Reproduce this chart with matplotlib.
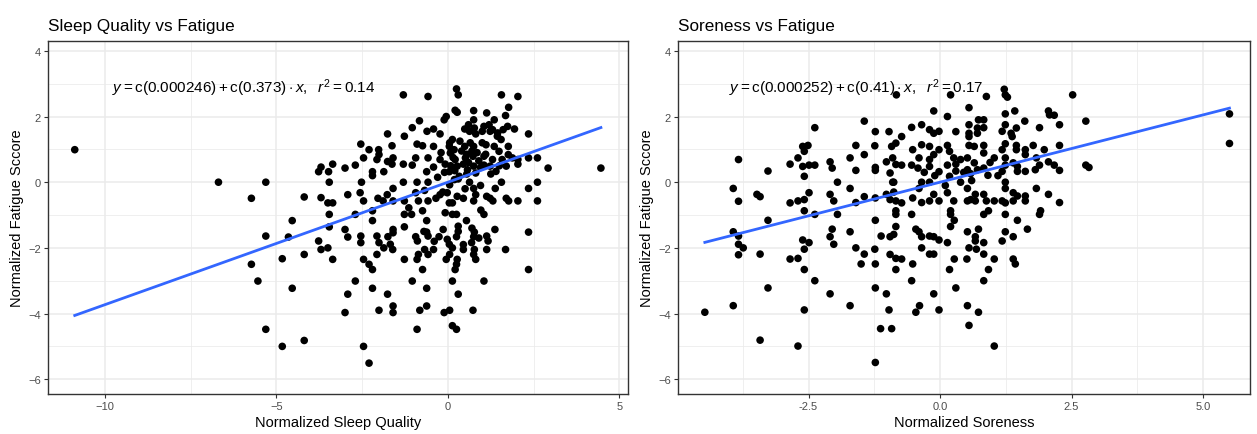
import numpy as np
import matplotlib
matplotlib.use("Agg")
import matplotlib.pyplot as plt
from matplotlib.ticker import MultipleLocator, FormatStrFormatter

plt.rcParams['font.family'] = ['Liberation Sans', 'DejaVu Sans']
plt.rcParams['mathtext.fontset'] = 'custom'
plt.rcParams['mathtext.rm'] = 'Liberation Sans'
plt.rcParams['mathtext.it'] = 'Liberation Sans:italic'

# Sleep quality panel (x, fatigue)
sleep_x = [-10.88, -6.69, -5.31, -5.73, -5.31, -5.73, -5.54, -5.31, -4.83, -4.83, -4.65, -4.54, -4.54,
           -4.19, -4.19, -4.19, 4.46, 2.92, 2.61, 2.61, 2.61, 2.35, 2.35, 2.35, 2.35, 2.35, 2.04, 1.56,
           1.77, 1.68, 1.94, 2.04, 2.04, 1.68, 1.37, 1.05, 0.73, 0.25, 0.30, -0.58, -1.30, 0.27, 0.21,
           0.75, 1.13, -0.05, -0.11, -0.83, -1.04, -0.42, -0.61, -0.23, -1.76, -1.27, -1.63, -2.54,
           -2.30, -2.02, -2.46, -2.70, -3.00, -3.36, -3.70, -3.77, -3.48, -3.46, -2.52, -2.92, -2.56,
           -2.46, -3.70, -3.50, -3.36, -3.46, -2.70, -3.46, -3.00, -2.92, -2.54, -2.54, -3.77, -3.70,
           -3.50, -3.36, -2.46, -2.30, -2.20, -2.70, -2.92, -2.20, -1.76, -3.00, -2.01, -1.60, -1.60,
           -2.46, -2.30, -2.20, -2.20, -2.07, -2.01, -2.07, -1.87, -1.68, -1.61, -1.60, -1.60, -1.75,
           -1.27, -1.27, -1.27, -1.04, -0.90, -0.82, -0.62, -0.62, -0.74, -0.90, -0.86, -0.58, -0.68,
           -0.42, -0.94, -0.89, -0.62, -0.58, -0.26, -0.14, -0.62, -0.74, -0.11, 0.05, 0.13, 0.25,
           0.30, 0.13, 0.21, 0.25, 0.27, -0.05, 0.05, 0.13, 0.45, 0.77, 0.75, 0.81, 1.13, 1.17, 1.13,
           0.77, 0.75, 0.69, 0.30, 0.25, -0.02, 0.04, 0.54, 0.13, 0.25, 1.05, 0.96, 1.38, 1.23, 1.31,
           1.13, 1.70, 1.77, 1.56, 0.63, 0.75, 0.81, 0.75, 0.27, 0.13, 0.45, -0.02, 0.05, 0.19, 0.33,
           -0.23, -0.35, -0.58, -0.86, -0.94, -0.68, -0.58, -0.90, -1.30, -1.27, -1.60, -1.60, -1.77,
           -1.89, -2.04, -1.63, -1.60, -1.76, -1.87, -2.20, -2.20, -2.01, -2.07, -1.30, -1.04, -0.94,
           -0.90, -0.74, -0.58, -0.62, -0.42, -0.42, -0.23, -0.08, 0.04, 0.04, 0.07, 0.13, 0.18, 0.21,
           0.27, 0.49, 0.51, 0.57, 0.75, 0.73, 0.75, 0.81, 0.75, 0.77, 0.81, 0.63, 0.49, 1.05, 1.23,
           1.35, 1.44, 1.11, 1.35, 1.49, 1.05, 1.30, 1.58, 1.23, 1.05, 1.40, 1.70, 1.76, 1.76, 1.88,
           2.04, 1.61, 1.74, 0.04, -0.08, -1.06, -1.14,
           0.05, 0.10, 0.15, 0.08, 0.20, 0.35, 0.40, 0.55, 0.60, 0.45, 0.65, 0.70, 0.85, 0.90, 0.95,
           1.00, 0.55, 0.30, -0.10, -0.20, 1.20, 1.30, 1.45, 1.55, 1.00, 0.60, 1.10, 1.25, 1.50, -0.30,
           -0.70, -0.40, 0.30, 0.45, 0.70, 0.90, -0.15, 0.50, 0.95]
sleep_y = [0.99, 0.00, 0.00, -0.49, -1.64, -2.50, -3.01, -4.48, -5.00, -2.33, -1.67, -1.17, -3.23,
           -0.45, -2.20, -4.82, 0.43, 0.43, 0.74, 0.00, -0.57, 1.47, 0.74, -0.19, -1.52, -2.66, 2.61,
           2.66, 2.28, 2.03, 1.62, -0.57, 0.55, -2.05, -1.44, -3.01, -3.90, 2.84, 2.66, 2.61, 2.66,
           2.13, 2.19, 2.18, 2.11, 2.00, 1.90, 1.87, 1.66, 1.62, 1.55, 1.47, 1.47, 1.40, 1.11, 1.16,
           0.99, 0.99, 0.74, 0.52, 0.43, 0.55, 0.46, 0.32, 0.32, 0.00, 0.00, -0.38, -0.32, -0.57,
           -0.47, -0.63, -0.63, -0.98, -0.98, -1.36, -1.44, -1.67, -1.64, -1.84, -1.79, -2.05, -2.00,
           -2.35, -2.35, -2.50, -2.66, -3.01, -3.41, -3.23, -3.41, -3.97, -3.90, -3.77, -3.97, -5.00,
           -5.51, -0.87, -1.17, -1.64, -1.84, -2.20, -2.00, -1.89, -2.05, -1.44, -1.54, -1.66, -1.36,
           -0.98, -2.35, -3.01, -4.48, -3.90, -3.77, -3.23, -2.66, -2.35, -2.20, -2.20, -2.05, -2.05,
           -1.66, -1.79, -1.52, -1.64, -1.66, -1.44, -1.17, -0.87, -3.97, -3.90, -4.37, -4.48, -3.41,
           -3.01, -2.66, -2.50, -2.35, -2.35, -2.20, -2.00, -2.05, -2.05, -2.20, -2.35, -2.05, -1.79,
           -1.64, -1.52, -1.66, -1.84, -1.34, -1.66, -1.74, -1.89, -1.17, -0.98, -0.98, -0.98, -0.85,
           -0.19, -0.49, -0.57, -0.43, -0.49, -0.57, 0.00, 0.00, -0.19, -0.38, -0.57, -0.43, -0.63,
           -0.49, -0.32, -0.08, 0.08, 0.18, -0.38, -0.49, -0.57, -0.57, -0.32, -0.25, 0.00, 0.00, 0.00,
           -0.57, -0.19, -0.57, -0.38, -0.57, -0.49, 0.55, 0.74, 0.63, 0.32, 0.20, 0.32, 0.84, 0.69,
           0.55, 0.52, 0.74, 1.16, 1.11, 0.74, 0.32, 0.46, 1.09, 0.69, 0.55, 0.32, 1.09, 0.89, 1.30,
           0.99, 0.69, 0.49, 1.09, 0.74, 0.38, 1.09, 0.79, 0.49, 0.28, 1.90, 1.65, 1.47, 1.55, 1.62,
           1.70, 1.55, 1.90, 1.40, 1.14, 1.09, 0.94, 0.79, 0.69, 0.69, 0.49, 0.52, 0.33, 0.49, 1.09,
           0.84, 0.74, 0.69, 1.60, 1.70, -0.63, -0.93, -0.98, -0.78,
           1.20, 0.95, 0.75, 0.50, 0.35, 1.25, 0.95, 0.85, 0.60, 0.55, 1.20, 0.95, 0.90, 0.65, 0.45,
           1.20, 0.25, 0.10, 0.30, 0.90, 1.75, 1.60, 1.50, 1.30, 1.55, 1.75, 0.85, 0.25, 0.50, 0.15,
           -1.50, -1.80, -1.50, -1.90, -1.40, -1.70, -0.30, -0.20, -0.10]

# Soreness panel (x, fatigue)
sore_x = [-4.47, -3.93, -3.93, -3.93, -3.83, -3.83, -3.83, -3.83, -3.83, -3.74, -3.48, -3.42, -3.42,
          -3.42, -3.27, -3.27, -3.27, -2.85, -2.85, -2.85, -2.70, -2.70, -2.70, -2.70, -2.61, -2.58,
          -2.61, -2.58, -2.58, -2.58, -2.61, -2.58, -2.58, -2.58, -2.51, -2.49, -2.49, -2.49, -2.38,
          -2.38, -2.38, -2.38, -2.09, -2.05, -2.09, -2.02, -1.95, -1.95, -2.05, -2.09, -2.02, -2.09,
          -1.71, -1.71, -1.71, -1.71, -1.60, -1.60, -1.60, -1.60, -1.50, -1.44, -1.44, -1.44, -1.44,
          -1.23, -1.24, -1.23, -1.23, -1.23, -1.23, -1.24, -1.23, -1.23, -1.23, -1.13, -1.12, -1.02,
          -1.02, -1.02, -0.97, -0.95, -0.95, -0.95, -0.95, -0.97, -0.92, -0.92, -0.90, -0.90, -0.88,
          -0.88, -0.88, -0.84, -0.84, -0.84, -0.84, -0.84, -0.84, -0.84, -0.84, -0.83, -0.73, -0.73,
          -0.73, -0.73, -0.54, -0.52, -0.54, -0.52, -0.54, -0.52, -0.54, -0.46, -0.46, -0.42, -0.40,
          -0.40, -0.40, -0.39, -0.35, -0.35, -0.35, -0.35, -0.35, -0.35, -0.20, -0.20, -0.20, -0.20,
          -0.20, -0.20, -0.20, -0.20, -0.12, -0.12, -0.12, -0.12, -0.12, -0.12, -0.12, -0.02, -0.02,
          -0.02, -0.02, -0.02, -0.02, 0.14, 0.14, 0.14, 0.14, 0.14, 0.18, 0.20, 0.18, 0.18, 0.20, 0.20,
          0.20, 0.26, 0.26, 0.27, 0.27, 0.30, 0.30, 0.30, 0.39, 0.39, 0.51, 0.52, 0.52, 0.52, 0.52,
          0.52, 0.52, 0.55, 0.55, 0.55, 0.55, 0.55, 0.55, 0.55, 0.58, 0.58, 0.65, 0.65, 0.67, 0.67,
          0.67, 0.67, 0.69, 0.71, 0.71, 0.71, 0.73, 0.73, 0.73, 0.83, 0.83, 0.83, 0.83, 0.83, 0.83,
          0.83, 0.83, 0.83, 0.83, 0.88, 0.88, 0.91, 0.92, 0.92, 1.03, 1.03, 1.03, 1.03, 1.18, 1.18,
          1.18, 1.18, 1.18, 1.22, 1.24, 1.28, 1.24, 1.24, 1.24, 1.24, 1.24, 1.24, 1.24, 1.24, 1.24,
          1.24, 1.35, 1.37, 1.39, 1.39, 1.39, 1.39, 1.39, 1.43, 1.42, 1.45, 1.45, 1.45, 1.47, 1.47,
          1.47, 1.47, 1.61, 1.62, 1.62, 1.62, 1.62, 1.62, 1.66, 1.77, 1.81, 1.83, 1.83, 1.89, 1.89,
          1.91, 1.89, 1.98, 2.06, 2.08, 2.06, 2.06, 2.17, 2.17, 2.27, 2.27, 2.27, 2.27, 2.52, 2.77,
          2.77, 2.83, 5.50, 5.50,
          0.30, 0.45, 0.10, -0.10, 0.60, -0.30, 0.95, 1.10]
sore_y = [-3.96, -0.19, -1.51, -3.76, 0.69, -0.58, -1.64, -1.89, -2.21, -2.00, -0.37, -0.44, -2.19,
          -4.81, 0.34, -1.16, -3.22, 0.55, -0.63, -2.34, 0.74, -0.57, -2.32, -4.99, 1.09, 0.94, 0.48,
          0.18, -0.53, -0.87, -1.76, -2.04, -2.66, -3.89, 1.12, 0.52, -0.32, -1.84, 1.66, 0.52, -0.98,
          -3.00, 0.62, 0.43, -0.37, -0.57, 0.00, -0.98, -1.43, -1.66, -1.89, -3.40, 0.74, -0.19,
          -1.51, -3.76, 1.12, 0.36, -0.62, -2.00, -2.49, 1.86, 0.84, -0.44, -2.19, 1.54, 1.11, 0.45,
          0.36, -0.48, -1.16, -2.04, -2.49, -3.22, -5.49, -4.46, -1.64, -3.40, 0.62, -0.37, 1.54,
          0.28, -0.53, -1.66, -2.20, -3.89, -4.46, 1.09, 0.74, 0.00, 0.00, -0.30, -1.59, 1.19, 0.54,
          -0.57, -0.87, -0.98, -1.35, -2.32, -2.66, 2.66, 1.39, 0.52, -0.63, -2.34, 1.67, 0.99, 0.52,
          -0.48, -0.98, -2.49, -3.00, -3.96, -1.43, 0.43, 0.74, -0.19, -1.51, -3.76, 1.75, 1.14, 0.00,
          -0.62, -1.66, -2.00, 1.60, 1.09, 0.69, 0.48, 0.00, -0.57, -1.64, -2.19, 2.17, 1.49, 0.84,
          -0.37, -1.66, -2.19, -3.40, 1.55, 0.99, 0.32, -0.57, -1.76, -3.89, 2.00, 1.12, 0.52, -0.32,
          -1.84, -2.66, 2.66, 0.94, 0.18, -0.87, -0.98, -1.35, 0.74, -0.57, -2.34, -1.16, 1.54, 0.34,
          -3.22, 0.00, 0.69, -2.34, 0.74, 0.38, -0.19, -0.57, -1.51, -3.76, 2.27, 1.75, 1.49, 1.39,
          1.12, -2.00, -4.36, -0.53, 0.26, 1.09, 0.59, -0.37, -0.57, -1.66, -1.79, -2.04, 1.49, 0.38,
          1.65, 1.90, -1.43, -3.96, 1.90, 1.66, 1.12, 0.89, 0.43, -0.37, -0.98, -1.84, -2.19, -3.00,
          2.61, -0.57, 0.21, -0.87, -2.66, 0.74, -0.57, -2.34, -4.99, 1.55, 0.99, 0.33, -0.57, -1.79,
          2.83, 2.66, 2.59, 2.08, 1.75, 1.17, 0.74, 0.52, 0.00, -0.19, -0.63, -0.98, -1.51, 1.49,
          1.39, 0.59, -0.32, -0.57, -1.66, -2.34, -2.49, 2.17, 1.65, 1.12, 0.99, 0.48, 0.33, -0.42,
          -1.16, 1.86, 0.99, 0.84, 0.33, -0.42, -0.57, -1.43, 1.12, 0.38, 0.74, -0.19, 1.66, 0.52,
          -0.87, -0.98, 0.99, 2.17, 2.05, 0.62, -0.37, 2.04, 0.52, 1.75, 1.12, 0.36, -0.62, 2.66,
          1.86, 0.52, 0.45, 2.08, 1.18,
          0.55, 0.30, -0.10, 0.20, 0.05, 0.30, 0.60, 0.20]

# fitted coefficients shown in the labels
sleep_fit = [0.000246, 0.373]
sore_fit = [0.000252, 0.41]
sleep_r2 = 0.14
sore_r2 = 0.17


def panel(ax, x, y, fit, r2, title, xlabel, xlim, xmajor, xminor, eq_x):
    ax.set_axisbelow(True)
    ax.scatter(x, y, s=30, color='black', edgecolors='none', zorder=3)
    xs = np.array([min(x), max(x)])
    ax.plot(xs, fit[0] + fit[1] * xs, color='#3366FF', linewidth=2, zorder=4)
    ax.set_xlim(xlim)
    ax.set_ylim(-6.45, 4.3)
    ax.xaxis.set_major_locator(MultipleLocator(xmajor))
    ax.xaxis.set_minor_locator(MultipleLocator(xminor))
    ax.yaxis.set_major_locator(MultipleLocator(2))
    ax.yaxis.set_minor_locator(MultipleLocator(1))
    ax.grid(which='major', color='#EBEBEB', linewidth=1.1)
    ax.grid(which='minor', color='#EBEBEB', linewidth=0.55)
    ax.tick_params(which='minor', length=0)
    ax.tick_params(which='major', length=3, color='#333333', labelcolor='#4D4D4D',
                   labelsize=8, width=0.8, pad=2)
    for s in ax.spines.values():
        s.set_color('#333333')
        s.set_linewidth(1.0)
    ax.set_title(title, loc='left', fontsize=12.3, pad=8)
    ax.set_xlabel(xlabel, fontsize=10.5, labelpad=3)
    ax.set_ylabel('Normalized Fatigue Sccore', fontsize=10.5, labelpad=3)
    a, b = fit
    label = (r'$y = \mathrm{c}(%s) + \mathrm{c}(%s) \cdot x,\ \ r^2 = %s$'
             % (f'{a:g}', f'{b:g}', f'{r2:g}'))
    ax.text(eq_x, 0.868, label, transform=ax.transAxes, fontsize=11,
            ha='left', va='center')


fig = plt.figure(figsize=(12.57, 4.35), dpi=100)
ax1 = fig.add_axes([48 / 1257, 40 / 435, 580 / 1257, 353 / 435])
ax2 = fig.add_axes([678 / 1257, 40 / 435, 572 / 1257, 353 / 435])

panel(ax1, sleep_x, sleep_y, sleep_fit, sleep_r2, 'Sleep Quality vs Fatigue',
      'Normalized Sleep Quality', (-11.66, 5.25), 5, 2.5, 0.11)
panel(ax2, sore_x, sore_y, sore_fit, sore_r2, 'Soreness vs Fatigue',
      'Normalized Soreness', (-4.98, 5.89), 2.5, 1.25, 0.089)
ax2.xaxis.set_major_formatter(FormatStrFormatter('%.1f'))

fig.savefig('out.png', dpi=100)
